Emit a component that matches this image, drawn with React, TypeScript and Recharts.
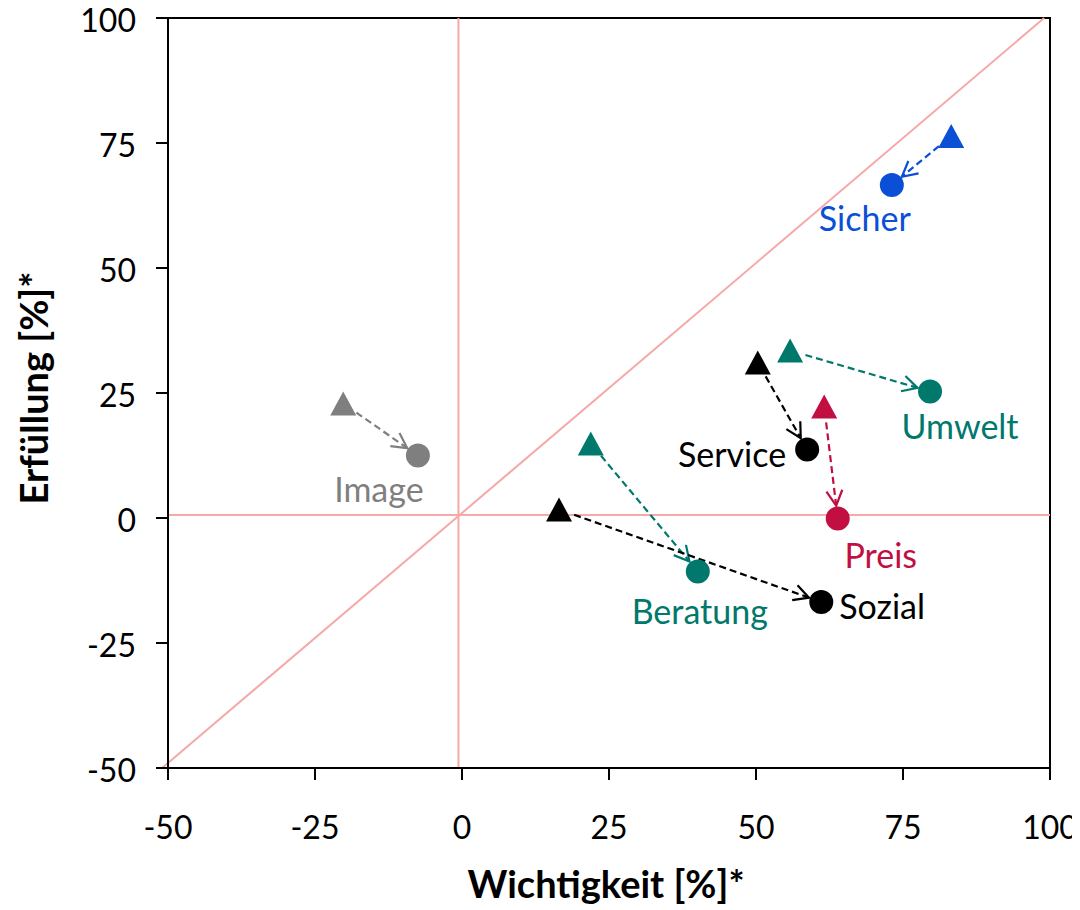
import { ScatterChart, Scatter, XAxis, YAxis, ReferenceLine, ReferenceArea, Label } from 'recharts';

// Wichtigkeit (x) / Erfüllung (y): Dreieck = Ausgangswert, Kreis = neuer Wert
const names = ['Sicher', 'Umwelt', 'Service', 'Preis', 'Image', 'Beratung', 'Sozial'];
const startX = [83.2, 55.8, 50.3, 61.6, -20.2, 21.9, 16.5];
const startY = [76.4, 33.5, 31.1, 22.3, 22.9, 14.9, 1.7];
const endX = [73.1, 79.6, 58.7, 63.9, -7.5, 40.1, 61.1];
const endY = [66.6, 25.3, 13.7, -0.1, 12.5, -10.7, -16.8];
const axisTicks = [-50, -25, 0, 25, 50, 75, 100];

const COLORS: Record<string, string> = {
  Sicher: '#0a4fd6',
  Umwelt: '#00786c',
  Service: '#000000',
  Preis: '#c20f42',
  Image: '#7f7f7f',
  Beratung: '#00786c',
  Sozial: '#000000',
};

// Beschriftung relativ zum Kreis (px)
const LABEL_POS: Record<string, { anchor: 'start' | 'middle' | 'end'; dx: number; dy: number }> = {
  Sicher: { anchor: 'middle', dx: -27, dy: 46 },
  Umwelt: { anchor: 'middle', dx: 30, dy: 47 },
  Service: { anchor: 'end', dx: -21, dy: 17 },
  Preis: { anchor: 'middle', dx: 43, dy: 49 },
  Image: { anchor: 'middle', dx: -39, dy: 46 },
  Beratung: { anchor: 'middle', dx: 2, dy: 52 },
  Sozial: { anchor: 'start', dx: 18, dy: 17 },
};

const FONT = 'Lato, sans-serif';
const PINK = '#f5a9a9';

const startPoints = names.map((name, i) => ({ name, x: startX[i], y: startY[i] }));
const endPoints = names.map((name, i) => ({ name, x: endX[i], y: endY[i] }));

const Triangle = (props: any) => {
  const { cx, cy, payload } = props;
  if (cx == null || cy == null) return null;
  const fill = COLORS[payload.name];
  return <polygon points={`${cx},${cy - 12} ${cx - 13},${cy + 12} ${cx + 13},${cy + 12}`} fill={fill} />;
};

const Dot = (props: any) => {
  const { cx, cy, payload } = props;
  if (cx == null || cy == null) return null;
  const color = COLORS[payload.name];
  const lp = LABEL_POS[payload.name];
  return (
    <g>
      <circle cx={cx} cy={cy} r={12} fill={color} />
      <text x={cx + lp.dx} y={cy + lp.dy} textAnchor={lp.anchor} fill={color} fontSize={34} fontFamily={FONT}>
        {payload.name}
      </text>
    </g>
  );
};

const YTick = (props: any) => {
  const { x, y, payload } = props;
  return (
    <text x={x} y={y + 3} dy="0.355em" textAnchor="end" fill="#000" fontSize={32} fontFamily={FONT}>
      {payload.value}
    </text>
  );
};

const makeArrow = (color: string) => (props: any) => {
  const { x1, y1, x2, y2 } = props;
  const dx = x2 - x1;
  const dy = y2 - y1;
  const len = Math.sqrt(dx * dx + dy * dy) || 1;
  const ux = dx / len;
  const uy = dy / len;
  const sx = x1 + ux * 16;
  const sy = y1 + uy * 16;
  const tx = x2 - ux * 13;
  const ty = y2 - uy * 13;
  const a = (28 * Math.PI) / 180;
  const h = 17;
  const arm = (sign: number) => {
    const c = Math.cos(sign * a);
    const s = Math.sin(sign * a);
    const rx = ux * c - uy * s;
    const ry = ux * s + uy * c;
    return `${tx - rx * h},${ty - ry * h}`;
  };
  return (
    <g>
      <line x1={sx} y1={sy} x2={tx} y2={ty} stroke={color} strokeWidth={2.2} strokeDasharray="7 4" />
      <polyline points={`${arm(1)} ${tx},${ty} ${arm(-1)}`} fill="none" stroke={color} strokeWidth={2.2} />
    </g>
  );
};

export default function App() {
  return (
    <div style={{ margin: '-8px 0 0 -8px', width: 1080, height: 910 }}>
      <ScatterChart width={1080} height={910} margin={{ top: 18, right: 30, bottom: 82, left: 80 }}>
        <ReferenceLine x={-0.6} stroke={PINK} strokeWidth={2} />
        <ReferenceLine y={0.6} stroke={PINK} strokeWidth={2} />
        <ReferenceLine
          segment={[{ x: -51, y: -50 }, { x: 99, y: 100 }]}
          stroke={PINK}
          strokeWidth={2}
          ifOverflow="visible"
        />
        <ReferenceArea x1={-50} x2={100} y1={-50} y2={100} fill="none" stroke="#000" strokeWidth={2} fillOpacity={0} />
        <XAxis
          type="number"
          dataKey="x"
          domain={[-50, 100]}
          ticks={axisTicks}
          allowDataOverflow
          tickSize={12}
          tickMargin={36}
          axisLine={{ stroke: '#000', strokeWidth: 2 }}
          tickLine={{ stroke: '#000', strokeWidth: 2 }}
          tick={{ fill: '#000', fontSize: 32, fontFamily: FONT }}
          height={60}
        >
          <Label
            content={(p: any) => {
              const vb = p.viewBox || { x: 168, y: 768, width: 882, height: 60 };
              return (
                <text x={vb.x + vb.width / 2 - 3} y={898} textAnchor="middle" fontSize={38} fontWeight="bold" fontFamily={FONT} fill="#000">
                  Wichtigkeit [%]*
                </text>
              );
            }}
          />
        </XAxis>
        <YAxis
          type="number"
          dataKey="y"
          domain={[-50, 100]}
          ticks={axisTicks}
          allowDataOverflow
          width={88}
          tickSize={12}
          tickMargin={20}
          axisLine={{ stroke: '#000', strokeWidth: 2 }}
          tickLine={{ stroke: '#000', strokeWidth: 2 }}
          tick={<YTick />}
        >
          <Label
            content={() => (
              <text
                x={0}
                y={0}
                transform="translate(48 388) rotate(-90)"
                textAnchor="middle"
                fontSize={38}
                fontWeight="bold"
                fontFamily={FONT}
                fill="#000"
              >
                Erfüllung [%]*
              </text>
            )}
          />
        </YAxis>
        {names.map((name, i) => (
          <ReferenceLine
            key={name}
            segment={[{ x: startX[i], y: startY[i] }, { x: endX[i], y: endY[i] }]}
            ifOverflow="visible"
            shape={makeArrow(COLORS[name])}
          />
        ))}
        <Scatter data={startPoints} shape={<Triangle />} isAnimationActive={false} />
        <Scatter data={endPoints} shape={<Dot />} isAnimationActive={false} />
      </ScatterChart>
    </div>
  );
}
